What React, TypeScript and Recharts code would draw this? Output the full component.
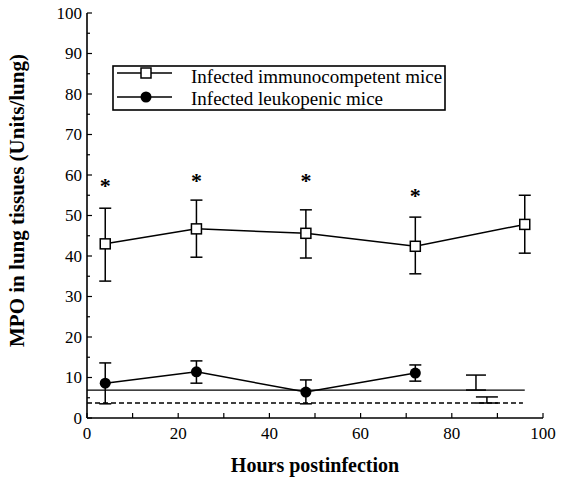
import {
  ComposedChart,
  Line,
  Scatter,
  XAxis,
  YAxis,
  ErrorBar,
  Legend,
  Label,
} from 'recharts'

const SERIF = '"Liberation Serif", "Times New Roman", serif'

// immunocompetent mice (open squares)
const hours = [4, 24, 48, 72, 96]
const immMean = [43, 46.7, 45.6, 42.4, 47.8]
const immLow = [33.8, 39.7, 39.5, 35.6, 40.7]
const immHigh = [51.8, 53.8, 51.4, 49.6, 55]

// leukopenic mice (filled circles)
const leukHours = [4, 24, 48, 72]
const leukMean = [8.6, 11.4, 6.4, 11.1]
const leukLow = [3.5, 8.6, 3.5, 9.1]
const leukHigh = [13.6, 14.1, 9.4, 13.1]

// significance asterisks
const starHours = [4, 24, 48, 72]
const starLevel = [58, 59.3, 59.3, 55.5]

// control baselines
const solidSpan = [0, 96]
const solidLevel = 6.9
const solidBarAt = 85.3
const solidHigh = 10.6
const dashSpan = [0, 95.6]
const dashLevel = 3.7
const dashBarAt = 87.7
const dashHigh = 5.2

const yTicks = [0, 5, 10, 15, 20, 25, 30, 35, 40, 45, 50, 55, 60, 65, 70, 75, 80, 85, 90, 95, 100]
const xTicks = [0, 10, 20, 30, 40, 50, 60, 70, 80, 90, 100]

const immData = hours.map((h, i) => ({
  x: h,
  y: immMean[i],
  err: [immMean[i] - immLow[i], immHigh[i] - immMean[i]],
}))
const leukData = leukHours.map((h, i) => ({
  x: h,
  y: leukMean[i],
  err: [leukMean[i] - leukLow[i], leukHigh[i] - leukMean[i]],
}))
const starData = starHours.map((h, i) => ({ x: h, y: starLevel[i] }))
const solidLine = solidSpan.map((x) => ({ x, y: solidLevel }))
const dashLine = dashSpan.map((x) => ({ x, y: dashLevel }))
const solidBar = [{ x: solidBarAt, y: solidLevel, err: [0, solidHigh - solidLevel] }]
const dashBar = [{ x: dashBarAt, y: dashLevel, err: [0, dashHigh - dashLevel] }]

const txt = { fontFamily: SERIF }

function YTick(props: any) {
  const { x, y, payload } = props
  const v = payload.value
  const major = v % 10 === 0
  return (
    <g>
      <line x1={x} x2={x + (major ? 5 : 3)} y1={y} y2={y} stroke="#000" strokeWidth={1.2} />
      {major && (
        <text x={x - 5} y={y} dy="0.35em" textAnchor="end" style={txt} fontSize={17} fill="#000">
          {v}
        </text>
      )}
    </g>
  )
}

function XTick(props: any) {
  const { x, y, payload } = props
  const v = payload.value
  const major = v % 20 === 0
  return (
    <g>
      <line x1={x} x2={x} y1={y} y2={y - 5} stroke="#000" strokeWidth={1.2} />
      {major && (
        <text x={x} y={y + 21} textAnchor="middle" style={txt} fontSize={17} fill="#000">
          {v}
        </text>
      )}
    </g>
  )
}

function square(props: any) {
  const { cx, cy, index } = props
  return <rect key={index} x={cx - 5} y={cy - 5} width={10} height={10} fill="#fff" stroke="#000" strokeWidth={1.5} />
}

function dotFilled(props: any) {
  const { cx, cy, index } = props
  return <circle key={index} cx={cx} cy={cy} r={5.5} fill="#000" />
}

function star(props: any) {
  const { cx, cy } = props
  return (
    <text x={cx} y={cy + 10} textAnchor="middle" style={txt} fontWeight="bold" fontSize={22} fill="#000">
      *
    </text>
  )
}

function LegendBox() {
  return (
    <svg width={334} height={46} style={{ display: 'block' }}>
      <rect x={1} y={1} width={332} height={44} fill="#fff" stroke="#000" strokeWidth={1.6} />
      <line x1={5} x2={60} y1={8} y2={8} stroke="#000" strokeWidth={1.5} />
      <rect x={29} y={3} width={10} height={10} fill="#fff" stroke="#000" strokeWidth={1.5} />
      <line x1={5} x2={60} y1={32} y2={32} stroke="#000" strokeWidth={1.5} />
      <circle cx={34} cy={32} r={5.5} fill="#000" />
      <text x={79} y={18} style={txt} fontSize={19} fill="#000">
        Infected immunocompetent mice
      </text>
      <text x={79} y={40} style={txt} fontSize={19} fill="#000">
        Infected leukopenic mice
      </text>
    </svg>
  )
}

export default function App() {
  return (
    <div style={{ position: 'absolute', left: 0, top: 0, width: 561, height: 486, background: '#fff' }}>
      <ComposedChart width={561} height={486} margin={{ top: 13, right: 18, left: 0, bottom: 0 }}>
        <XAxis
          dataKey="x"
          type="number"
          domain={[0, 100]}
          ticks={xTicks}
          interval={0}
          height={68}
          tickSize={0}
          tickMargin={0}
          tickLine={false}
          tick={(p: any) => <XTick {...p} />}
          axisLine={{ stroke: '#000', strokeWidth: 1.6 }}
        >
          <Label
            content={({ viewBox }: any) => (
              <text
                x={viewBox.x + viewBox.width / 2}
                y={viewBox.y + 54}
                textAnchor="middle"
                style={txt}
                fontWeight="bold"
                fontSize={20}
                fill="#000"
              >
                Hours postinfection
              </text>
            )}
          />
        </XAxis>
        <YAxis
          type="number"
          domain={[0, 100]}
          ticks={yTicks}
          interval={0}
          width={87}
          tickSize={0}
          tickMargin={0}
          tickLine={false}
          tick={(p: any) => <YTick {...p} />}
          axisLine={{ stroke: '#000', strokeWidth: 1.6 }}
        >
          <Label
            content={({ viewBox }: any) => {
              const cy = viewBox.y + viewBox.height / 2 - 15
              return (
                <text
                  x={24}
                  y={cy}
                  transform={`rotate(-90, 24, ${cy})`}
                  textAnchor="middle"
                  style={txt}
                  fontWeight="bold"
                  fontSize={21}
                  fill="#000"
                >
                  MPO in lung tissues (Units/lung)
                </text>
              )
            }}
          />
        </YAxis>
        <Legend
          layout="vertical"
          align="center"
          verticalAlign="middle"
          wrapperStyle={{ left: 112, top: 65, width: 334, height: 46 }}
          content={() => <LegendBox />}
        />
        <Line
          data={solidLine}
          dataKey="y"
          stroke="#000"
          strokeWidth={1.3}
          dot={false}
          activeDot={false}
          isAnimationActive={false}
          legendType="none"
        />
        <Line
          data={dashLine}
          dataKey="y"
          stroke="#000"
          strokeWidth={1.3}
          strokeDasharray="5 3"
          dot={false}
          activeDot={false}
          isAnimationActive={false}
          legendType="none"
        />
        <Scatter data={solidBar} dataKey="y" shape={() => <g />} isAnimationActive={false} legendType="none">
          <ErrorBar dataKey="err" direction="y" width={10} stroke="#000" strokeWidth={1.5} />
        </Scatter>
        <Scatter data={dashBar} dataKey="y" shape={() => <g />} isAnimationActive={false} legendType="none">
          <ErrorBar dataKey="err" direction="y" width={11} stroke="#000" strokeWidth={1.5} />
        </Scatter>
        <Line
          data={immData}
          dataKey="y"
          name="Infected immunocompetent mice"
          stroke="#000"
          strokeWidth={1.5}
          dot={square}
          activeDot={false}
          isAnimationActive={false}
        >
          <ErrorBar dataKey="err" direction="y" width={6} stroke="#000" strokeWidth={1.5} />
        </Line>
        <Line
          data={leukData}
          dataKey="y"
          name="Infected leukopenic mice"
          stroke="#000"
          strokeWidth={1.5}
          dot={dotFilled}
          activeDot={false}
          isAnimationActive={false}
        >
          <ErrorBar dataKey="err" direction="y" width={6} stroke="#000" strokeWidth={1.5} />
        </Line>
        <Scatter data={starData} dataKey="y" shape={star} isAnimationActive={false} legendType="none" />
      </ComposedChart>
    </div>
  )
}
